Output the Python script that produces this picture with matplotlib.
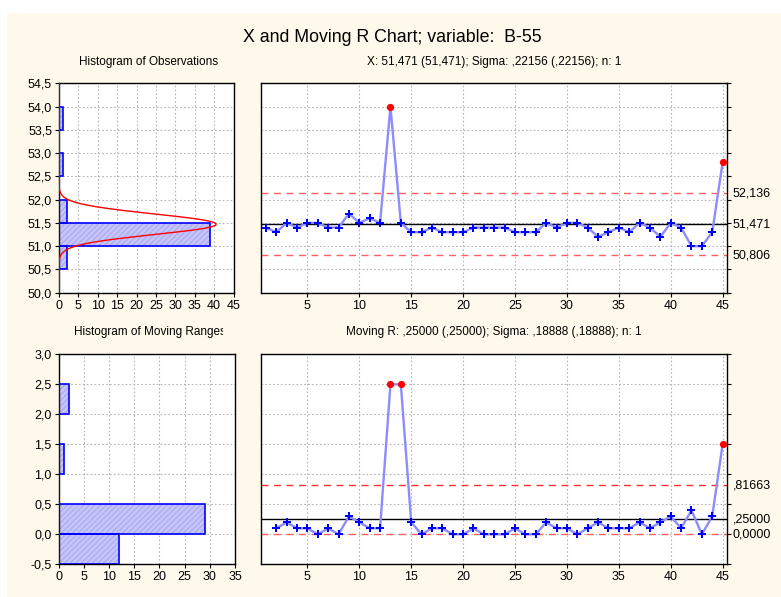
import matplotlib
matplotlib.use("Agg")
import matplotlib.pyplot as plt
import numpy as np
from matplotlib.ticker import FuncFormatter, MultipleLocator
from matplotlib.transforms import Bbox, blended_transform_factory

plt.rcParams['font.family'] = ['Liberation Sans', 'DejaVu Sans']

# Dados
obs = [51.4, 51.3, 51.5, 51.4, 51.5, 51.5, 51.4, 51.4, 51.7, 51.5,
       51.6, 51.5, 54.0, 51.5, 51.3, 51.3, 51.4, 51.3, 51.3, 51.3,
       51.4, 51.4, 51.4, 51.4, 51.3, 51.3, 51.3, 51.5, 51.4, 51.5,
       51.5, 51.4, 51.2, 51.3, 51.4, 51.3, 51.5, 51.4, 51.2, 51.5,
       51.4, 51.0, 51.0, 51.3, 52.8]

# limites de controle (como impressos no gráfico)
x_center, x_ucl, x_lcl, x_sigma = 51.471, 52.136, 50.806, 0.22156
r_center, r_ucl, r_lcl = 0.25, 0.81663, 0.0

# histograma das observações
obs_bins = [50.0, 50.5, 51.0, 51.5, 52.0, 52.5, 53.0, 53.5, 54.0]
obs_counts = [0, 2, 39, 2, 0, 1, 0, 1]

# histograma das amplitudes móveis
mr_bins = [-0.5, 0.0, 0.5, 1.0, 1.5, 2.0, 2.5]
mr_counts = [12, 29, 0, 1, 0, 2]

n = np.arange(1, len(obs) + 1)
obs = np.array(obs)
mr = np.abs(np.diff(obs))
mr_n = n[1:]

W, H = 781, 597
fig = plt.figure(figsize=(W / 100, H / 100), dpi=100, facecolor='white')
fig.patches.append(plt.Rectangle((7 / W, 0), 1, 1 - 13 / H, transform=fig.transFigure,
                                 facecolor='#FFF9EC', edgecolor='none', zorder=-10))


def box(x0, y0, x1, y1):
    return [x0 / W, 1 - y1 / H, (x1 - x0) / W, (y1 - y0) / H]


def virgula(v, pos=None, casas=1):
    return f"{v:.{casas}f}".replace('.', ',')


grid_kw = dict(color='#B4B4B4', linestyle=(0, (1.5, 2)), linewidth=0.8)
azul_fill = '#C6C6FA'
azul = '#0000FF'
linha_azul = '#8C8CFF'
fs_tick = 9

ax_h1 = fig.add_axes(box(59, 83.3, 233.5, 292.7))
ax_x = fig.add_axes(box(260.7, 83.3, 727.3, 292.7))
ax_h2 = fig.add_axes(box(58.7, 354.3, 235, 564.3))
ax_r = fig.add_axes(box(260.7, 354.3, 727.3, 564.3))

for ax in (ax_h1, ax_x, ax_h2, ax_r):
    ax.set_facecolor('white')
    ax.grid(True, **grid_kw)
    ax.set_axisbelow(True)
    for s in ax.spines.values():
        s.set_linewidth(1.0)
        s.set_color('black')
    ax.tick_params(labelsize=fs_tick, length=3, width=0.8, colors='black', pad=2)


def hist_h(ax, bins, counts):
    bins = np.array(bins)
    ax.barh(bins[:-1], counts, height=np.diff(bins), align='edge',
            color=azul_fill, hatch='//////', edgecolor='#ACACF2', linewidth=0, zorder=2)
    ax.barh(bins[:-1], counts, height=np.diff(bins), align='edge',
            fill=False, edgecolor=azul, linewidth=1.2, zorder=3)


# histograma das observações
hist_h(ax_h1, obs_bins, obs_counts)
yy = np.linspace(50.0, 54.5, 600)
curva = len(obs) * 0.5 / (np.sqrt(2 * np.pi) * x_sigma) * np.exp(-0.5 * ((yy - x_center) / x_sigma) ** 2)
ax_h1.plot(curva, yy, color='#FF0000', linewidth=1.0, zorder=4)
ax_h1.set_xlim(0, 45)
ax_h1.set_ylim(50.0, 54.5)
ax_h1.xaxis.set_major_locator(MultipleLocator(5))
ax_h1.yaxis.set_major_locator(MultipleLocator(0.5))
ax_h1.yaxis.set_major_formatter(FuncFormatter(virgula))

# histograma das amplitudes
hist_h(ax_h2, mr_bins, mr_counts)
ax_h2.set_xlim(0, 35)
ax_h2.set_ylim(-0.5, 3.0)
ax_h2.xaxis.set_major_locator(MultipleLocator(5))
ax_h2.yaxis.set_major_locator(MultipleLocator(0.5))
ax_h2.yaxis.set_major_formatter(FuncFormatter(virgula))


def carta(ax, xs, ys, center, ucl, lcl, labels, ucl_cor):
    ax.plot(xs, ys, color=linha_azul, linewidth=1.7, zorder=3)
    fora = (ys > ucl) | (ys < lcl)
    ax.plot(xs[~fora], ys[~fora], linestyle='none', marker='P', markersize=5.6,
            color=azul, markeredgewidth=0, zorder=4)
    ax.plot(xs[fora], ys[fora], linestyle='none', marker='o', markersize=5.2,
            color='#FF0000', markeredgewidth=0, zorder=4)
    ax.axhline(center, color='black', linewidth=1.0, zorder=2)
    ax.axhline(ucl, color=ucl_cor, linestyle=(0, (5, 4)), linewidth=1.0, zorder=2)
    ax.axhline(lcl, color='#FF6060', linestyle=(0, (5, 4)), linewidth=1.0, zorder=2)
    ax.set_xlim(0.5, 45.45)
    ax.xaxis.set_major_locator(MultipleLocator(5))
    ax.yaxis.set_major_locator(MultipleLocator(0.5))
    ax.yaxis.tick_right()
    ax.tick_params(axis='y', labelright=False)
    tr = blended_transform_factory(ax.transAxes, ax.transData)
    for v, txt in zip((ucl, center, lcl), labels):
        ax.text(1.012, v, txt, transform=tr, fontsize=fs_tick, va='center', ha='left')


carta(ax_x, n, obs, x_center, x_ucl, x_lcl, ['52,136', '51,471', '50,806'], '#FF6060')
ax_x.set_ylim(50.0, 54.5)
carta(ax_r, mr_n, mr, r_center, r_ucl, r_lcl, [',81663', ',25000', '0,0000'], '#FF3030')
ax_r.set_ylim(-0.5, 3.0)

# títulos
fig.text(392.5 / W, 1 - 38 / H, 'X and Moving R Chart; variable:  B-55',
         fontsize=12.8, ha='center', va='center')
fig.text(149 / W, 1 - 61.5 / H, 'Histogram of Observations', fontsize=8.5, ha='center', va='center')
fig.text(494 / W, 1 - 61.5 / H, 'X: 51,471 (51,471); Sigma: ,22156 (,22156); n: 1',
         fontsize=8.5, ha='center', va='center')
t = fig.text(74 / W, 1 - 332 / H, 'Histogram of Moving Ranges', fontsize=8.5, ha='left', va='center')
t.set_clip_box(Bbox.from_extents(0, 0, 223, H))
t.set_clip_on(True)
fig.text(494 / W, 1 - 332 / H, 'Moving R: ,25000 (,25000); Sigma: ,18888 (,18888); n: 1',
         fontsize=8.5, ha='center', va='center')

fig.savefig('out.png', dpi=100, facecolor=fig.get_facecolor())
